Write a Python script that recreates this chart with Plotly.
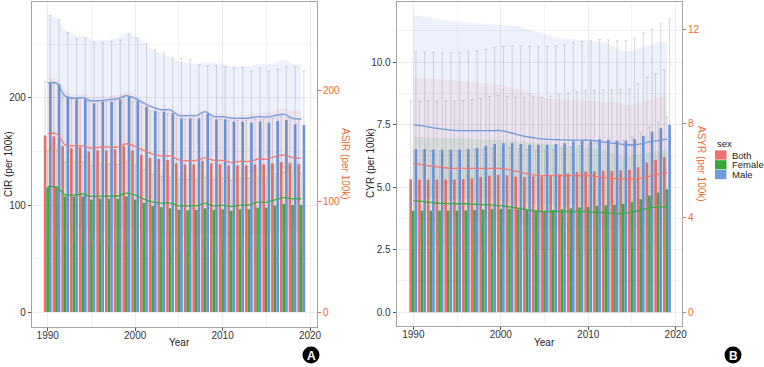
import plotly.graph_objects as go

W, H = 764, 367

years = list(range(1990, 2020))
sexes = ["Both", "Female", "Male"]

# ---------- Panel A: CIR (bars, left axis) / ASIR (lines + ribbons, right axis) ----------
cir_both = [165, 164, 155, 153, 154, 150, 151, 151, 152, 155, 151, 147, 144, 143, 142,
            139, 138, 138, 141, 139, 138, 137, 137, 137, 138, 138, 139, 140, 139, 138]
cir_both_lo = [116, 115, 109, 107, 108, 105, 106, 106, 106, 109, 106, 103, 101, 100, 99,
               97, 97, 97, 99, 97, 97, 96, 96, 96, 97, 97, 97, 98, 97, 97]
cir_both_hi = [215, 214, 202, 199, 200, 196, 197, 197, 198, 202, 197, 192, 188, 186, 185,
               181, 180, 180, 184, 181, 180, 179, 179, 179, 180, 180, 181, 183, 181, 180]
cir_female = [116.5, 117, 108, 108, 108, 105, 106, 106, 106, 108, 105, 102, 99, 98, 97,
              95.5, 95, 95.5, 97, 95.5, 96, 94.5, 96, 96, 97.5, 97.5, 99.5, 101, 100, 100]
cir_female_lo = [70, 70, 65, 65, 65, 63, 64, 64, 64, 65, 63, 61, 59, 59, 58,
                 57, 57, 57, 58, 57, 58, 57, 58, 58, 59, 59, 60, 61, 60, 60]
cir_female_hi = [151, 152, 140, 140, 140, 137, 138, 138, 138, 140, 137, 133, 129, 127, 126,
                 124, 124, 124, 126, 124, 125, 123, 125, 125, 127, 127, 129, 131, 130, 130]
cir_male = [213.7, 212.8, 201.2, 198.8, 198.8, 195.0, 196.6, 196.6, 198.8, 201.2, 197.5, 191.9,
            187.9, 187.2, 185.7, 181, 181, 181, 185, 180, 180, 177.9, 177.9, 177, 177.9, 177,
            178.5, 179.4, 175.4, 174.8]
cir_male_lo = [150, 149, 141, 139, 139, 137, 138, 138, 139, 141, 138, 134, 132, 131, 130,
               127, 127, 127, 130, 126, 126, 125, 125, 124, 125, 124, 125, 126, 123, 122]
cir_male_hi = [277, 273, 261, 255, 256, 252, 252, 253, 254, 260, 256, 251, 245, 242, 238,
               237, 236, 231, 230, 230, 229, 228, 229, 225, 228, 225, 227, 229, 229, 225]

asir_both = [161, 161, 151, 150, 150, 148, 149, 149, 149, 152, 149.5, 146, 142.6, 141, 141,
             137.5, 136.5, 137, 139.5, 137, 137, 135, 136, 136, 138, 138, 140.4, 141.7, 139.5, 139]
asir_both_lo = [116, 116, 109, 108, 108, 107, 107, 107, 107, 109, 107, 105, 102, 101, 101,
                99, 98, 99, 100, 99, 99, 97, 98, 98, 99, 99, 101, 102, 100, 100]
asir_both_hi = [212, 211, 199, 197, 197, 194, 195, 195, 196, 199, 196, 191, 186, 184, 184,
                180, 179, 179, 182, 179, 179, 177, 178, 178, 180, 180, 182, 184, 182, 182]
asir_female = [113.4, 113, 105.9, 105.6, 106.6, 104.4, 104.6, 104.6, 104.8, 107.4, 105.6, 102,
               99.5, 98.4, 98.4, 95.9, 95.9, 95.9, 98.4, 95.9, 96.5, 95.3, 96.5, 96.8, 99.2,
               99.2, 101.4, 103.4, 102.3, 102.3]
asir_female_lo = [82, 81, 76, 76, 77, 75, 75, 75, 75, 77, 76, 73, 71, 70, 70,
                  69, 69, 69, 71, 69, 69, 68, 69, 69, 71, 71, 73, 74, 73, 73]
asir_female_hi = [150, 149, 140, 139, 141, 138, 138, 138, 138, 142, 139, 135, 131, 130, 130,
                  127, 127, 127, 130, 127, 128, 126, 127, 128, 131, 131, 134, 137, 135, 135]
asir_male = [207, 206.7, 195, 193, 193.6, 190.7, 191, 191.8, 192.7, 195.5, 193, 188.6, 185,
             182.6, 182.6, 177.4, 177.4, 177.4, 181, 176.5, 176.5, 175, 175, 175, 176.5, 176,
             177.4, 178.7, 175, 174.5]
asir_male_lo = [150, 149, 141, 139, 140, 138, 138, 138, 139, 141, 139, 136, 133, 131, 131,
                128, 128, 128, 130, 127, 127, 126, 126, 126, 127, 127, 128, 129, 126, 126]
asir_male_hi = [268, 266, 255, 250, 249, 246, 245, 246, 247, 252, 249, 243, 237, 233, 230,
                226, 225, 224, 226, 225, 224, 222, 222, 222, 224, 223, 225, 228, 224, 223]

# ---------- Panel B: CYR (bars, left axis) / ASYR (lines + ribbons, right axis) ----------
cyr_both = [5.32, 5.3, 5.3, 5.3, 5.3, 5.3, 5.32, 5.35, 5.4, 5.45, 5.49, 5.47, 5.42, 5.4, 5.43,
            5.43, 5.45, 5.52, 5.55, 5.6, 5.63, 5.63, 5.65, 5.65, 5.67, 5.69, 5.8, 5.98, 6.09, 6.2]
cyr_both_lo = [3.2, 3.19, 3.19, 3.19, 3.19, 3.19, 3.2, 3.22, 3.25, 3.28, 3.3, 3.29, 3.26, 3.25,
               3.27, 3.27, 3.28, 3.32, 3.34, 3.37, 3.39, 3.39, 3.4, 3.4, 3.41, 3.42, 3.49, 3.6,
               3.66, 3.73]
cyr_both_hi = [8.46, 8.44, 8.44, 8.43, 8.44, 8.44, 8.46, 8.5, 8.56, 8.62, 8.66, 8.63, 8.6, 8.58,
               8.6, 8.6, 8.64, 8.72, 8.76, 8.82, 8.86, 8.86, 8.88, 8.88, 8.9, 8.92, 9.13, 9.4,
               9.53, 9.69]
cyr_female = [4.06, 4.06, 4.06, 4.06, 4.06, 4.06, 4.07, 4.08, 4.1, 4.12, 4.13, 4.13, 4.11, 4.09,
              4.07, 4.06, 4.09, 4.12, 4.15, 4.19, 4.22, 4.25, 4.27, 4.29, 4.33, 4.4, 4.52, 4.66,
              4.78, 4.91]
cyr_female_lo = [2.44, 2.44, 2.44, 2.44, 2.44, 2.44, 2.45, 2.45, 2.46, 2.47, 2.48, 2.48, 2.47,
                 2.45, 2.44, 2.44, 2.45, 2.47, 2.49, 2.51, 2.53, 2.55, 2.56, 2.57, 2.6, 2.64,
                 2.71, 2.8, 2.87, 2.95]
cyr_female_hi = [6.45, 6.45, 6.45, 6.45, 6.45, 6.45, 6.47, 6.49, 6.52, 6.55, 6.57, 6.57, 6.54,
                 6.5, 6.47, 6.45, 6.5, 6.55, 6.6, 6.66, 6.71, 6.76, 6.79, 6.82, 6.88, 7.0,
                 7.19, 7.41, 7.6, 7.81]
cyr_male = [6.52, 6.52, 6.50, 6.50, 6.50, 6.50, 6.52, 6.56, 6.65, 6.72, 6.76, 6.76, 6.72, 6.69,
            6.69, 6.69, 6.72, 6.76, 6.83, 6.86, 6.89, 6.92, 6.89, 6.86, 6.86, 6.92, 7.05, 7.22,
            7.36, 7.49]
cyr_male_lo = [3.91, 3.91, 3.9, 3.9, 3.9, 3.9, 3.91, 3.94, 3.99, 4.03, 4.06, 4.06, 4.03, 4.01,
               4.01, 4.01, 4.03, 4.06, 4.1, 4.12, 4.13, 4.15, 4.13, 4.12, 4.12, 4.15, 4.23,
               4.33, 4.42, 4.49]
cyr_male_hi = [10.4, 10.4, 10.38, 10.37, 10.37, 10.38, 10.4, 10.45, 10.5, 10.58, 10.62, 10.65,
               10.65, 10.63, 10.62, 10.62, 10.65, 10.7, 10.78, 10.82, 10.87, 10.9, 10.88, 10.85,
               10.85, 10.95, 11.16, 11.32, 11.53, 11.72]

asyr_both = [6.31, 6.26, 6.2, 6.15, 6.11, 6.1, 6.1, 6.1, 6.1, 6.1, 6.1, 6.04, 5.96, 5.88, 5.8,
             5.79, 5.79, 5.79, 5.79, 5.79, 5.79, 5.75, 5.7, 5.67, 5.64, 5.64, 5.68, 5.76, 5.85, 5.92]
asyr_both_lo = [3.9, 3.88, 3.86, 3.84, 3.82, 3.81, 3.8, 3.8, 3.8, 3.8, 3.79, 3.76, 3.72, 3.68,
                3.64, 3.62, 3.61, 3.6, 3.6, 3.6, 3.59, 3.57, 3.55, 3.53, 3.52, 3.52, 3.55,
                3.6, 3.65, 3.7]
asyr_both_hi = [9.96, 9.93, 9.9, 9.87, 9.85, 9.84, 9.8, 9.75, 9.7, 9.66, 9.63, 9.55, 9.45, 9.35,
                9.2, 9.07, 9.04, 9.02, 9.0, 9.0, 8.99, 8.97, 8.95, 8.9, 8.8, 8.78, 8.9, 9.0, 9.1, 9.2]
asyr_female = [4.73, 4.7, 4.66, 4.62, 4.61, 4.6, 4.6, 4.58, 4.56, 4.54, 4.52, 4.47, 4.41, 4.35,
               4.29, 4.27, 4.27, 4.27, 4.27, 4.27, 4.27, 4.24, 4.21, 4.19, 4.19, 4.25, 4.33,
               4.43, 4.46, 4.47]
asyr_female_lo = [2.85, 2.84, 2.83, 2.82, 2.81, 2.8, 2.8, 2.79, 2.78, 2.77, 2.76, 2.74, 2.71,
                  2.68, 2.65, 2.64, 2.64, 2.64, 2.64, 2.64, 2.63, 2.62, 2.6, 2.59, 2.59, 2.62,
                  2.66, 2.71, 2.73, 2.75]
asyr_female_hi = [7.44, 7.43, 7.42, 7.41, 7.4, 7.39, 7.37, 7.35, 7.33, 7.31, 7.3, 7.27, 7.24, 7.2,
                  7.16, 7.14, 7.11, 7.08, 7.05, 7.02, 6.98, 6.92, 6.84, 6.72, 6.6, 6.65, 6.73,
                  6.82, 6.9, 6.95]
asyr_male = [7.94, 7.9, 7.84, 7.78, 7.73, 7.7, 7.7, 7.7, 7.7, 7.7, 7.7, 7.62, 7.52, 7.44, 7.38,
             7.34, 7.32, 7.31, 7.3, 7.3, 7.3, 7.26, 7.2, 7.16, 7.12, 7.09, 7.14, 7.22, 7.28, 7.34]
asyr_male_lo = [4.9, 4.88, 4.85, 4.82, 4.8, 4.78, 4.78, 4.78, 4.78, 4.78, 4.78, 4.74, 4.68,
                4.64, 4.6, 4.58, 4.57, 4.56, 4.56, 4.56, 4.56, 4.54, 4.5, 4.48, 4.46, 4.45,
                4.48, 4.53, 4.57, 4.6]
asyr_male_hi = [12.6, 12.55, 12.48, 12.4, 12.35, 12.31, 12.28, 12.25, 12.22, 12.19, 12.17, 12.15,
                12.13, 12.0, 11.89, 11.8, 11.68, 11.62, 11.58, 11.55, 11.52, 11.48, 11.42, 11.25,
                11.04, 11.1, 11.22, 11.33, 11.43, 11.47]

# tick labels
x_ticks = [1990, 2000, 2010, 2020]
a_left_ticks = [0, 100, 200]
a_right_ticks = [0, 100, 200]
b_left_ticks = [0, 2.5, 5, 7.5, 10]
b_left_ticktext = ["0.0", "2.5", "5.0", "7.5", "10.0"]
b_right_ticks = [0, 4, 8, 12]

# ---------- styling ----------
BAR_COL = {"Both": "#EA625E", "Female": "#2E9E35", "Male": "#5A8BD5"}
LINE_COL = {"Both": "#F07A78", "Female": "#3DAA45", "Male": "#6F9BDC"}
RIB_COL = {"Both": "rgba(236,120,150,0.10)", "Female": "rgba(60,160,80,0.10)",
           "Male": "rgba(110,150,225,0.13)"}
KEY_COL = {"Both": "#EF7070", "Female": "#36A638", "Male": "#6E9CDA"}
ORANGE = "#F26A30"
GRID = "#EBEBEB"
BORDER = "#A4A4A4"
FONT = "Liberation Sans, Arial, sans-serif"


def px(x):
    return x / W


def py(y):
    return 1 - y / H


fig = go.Figure()

# axis ids: rate axis (main, right side, ribbons), count axis (overlay, left side, bars),
# rate clone (overlay, hidden, lines on top)
panels = [
    dict(xa="x", y_rate="y", y_count="y2", y_line="y3",
         bars={"Both": (cir_both, cir_both_lo, cir_both_hi),
               "Female": (cir_female, cir_female_lo, cir_female_hi),
               "Male": (cir_male, cir_male_lo, cir_male_hi)},
         lines={"Both": (asir_both, asir_both_lo, asir_both_hi),
                "Female": (asir_female, asir_female_lo, asir_female_hi),
                "Male": (asir_male, asir_male_lo, asir_male_hi)}),
    dict(xa="x2", y_rate="y4", y_count="y5", y_line="y6",
         bars={"Both": (cyr_both, cyr_both_lo, cyr_both_hi),
               "Female": (cyr_female, cyr_female_lo, cyr_female_hi),
               "Male": (cyr_male, cyr_male_lo, cyr_male_hi)},
         lines={"Both": (asyr_both, asyr_both_lo, asyr_both_hi),
                "Female": (asyr_female, asyr_female_lo, asyr_female_hi),
                "Male": (asyr_male, asyr_male_lo, asyr_male_hi)}),
]

for p in panels:
    for s in ["Male", "Both", "Female"]:
        v, lo, hi = p["lines"][s]
        fig.add_trace(go.Scatter(
            x=years + years[::-1], y=hi + lo[::-1], xaxis=p["xa"], yaxis=p["y_rate"],
            fill="toself", fillcolor=RIB_COL[s], line=dict(width=0), mode="lines",
            hoverinfo="skip", showlegend=False,
        ))
    for s in sexes:
        v, lo, hi = p["bars"][s]
        fig.add_trace(go.Bar(
            x=years, y=v, name=s, xaxis=p["xa"], yaxis=p["y_count"], offsetgroup=s,
            marker=dict(color=BAR_COL[s], line=dict(width=0)), opacity=0.92,
            showlegend=False,
            error_y=dict(type="data", symmetric=False,
                         array=[h - a for h, a in zip(hi, v)],
                         arrayminus=[a - l for a, l in zip(v, lo)],
                         color="rgba(140,140,140,0.5)", thickness=0.7, width=1.5),
        ))
    for s in sexes:
        v, lo, hi = p["lines"][s]
        fig.add_trace(go.Scatter(
            x=years, y=v, xaxis=p["xa"], yaxis=p["y_line"], mode="lines",
            line=dict(color=LINE_COL[s], width=1.3, shape="spline", smoothing=0.8),
            showlegend=False,
        ))

common_x = dict(showline=True, linecolor=BORDER, linewidth=1.2, mirror=True,
                ticks="outside", ticklen=3, tickcolor="#555555", tickwidth=1,
                tickvals=x_ticks, showgrid=True, gridcolor=GRID, gridwidth=1,
                minor=dict(dtick=5, tick0=1990, showgrid=True, gridcolor="#F3F3F3",
                           gridwidth=0.6, ticks=""),
                zeroline=False, automargin=False, ticklabelstandoff=-4,
                tickfont=dict(family=FONT, size=10, color="#333333"))
common_yl = dict(side="left", showline=True, linecolor=BORDER, linewidth=1.2, mirror=True,
                 ticks="outside", ticklen=3, tickcolor="#555555", tickwidth=1,
                 showgrid=True, gridcolor=GRID, gridwidth=1, zeroline=False,
                 automargin=False, tickfont=dict(family=FONT, size=10, color="#333333"))
common_yr = dict(side="right", showline=False, ticks="outside", ticklen=3, tickcolor=ORANGE,
                 tickwidth=1, showgrid=False, zeroline=False, automargin=False,
                 tickfont=dict(family=FONT, size=10, color=ORANGE))
hidden = dict(visible=False, showgrid=False, zeroline=False, automargin=False)

yA = [py(327), py(2)]
yB = [py(326), py(2)]
rangeA_rate = [-13.5, 280]
rangeB_rate = [-0.58, 13.15]

fig.update_layout(
    width=W, height=H, margin=dict(l=0, r=0, t=0, b=0),
    paper_bgcolor="white", plot_bgcolor="white",
    barmode="group", bargap=0.1, bargroupgap=0.0,
    font=dict(family=FONT, size=10, color="#222222"),
    xaxis=dict(domain=[px(32), px(317)], range=[1988.2, 2020.8], anchor="y", **common_x),
    yaxis=dict(domain=yA, anchor="x", range=rangeA_rate, tickvals=a_right_ticks, **common_yr),
    yaxis2=dict(overlaying="y", anchor="x", range=[-14, 289.7], tickvals=a_left_ticks,
                minor=dict(dtick=50, tick0=0, showgrid=True, gridcolor="#F3F3F3",
                           gridwidth=0.6, ticks=""), **common_yl),
    yaxis3=dict(overlaying="y", anchor="x", range=rangeA_rate, **hidden),
    xaxis2=dict(domain=[px(396.7), px(682)], range=[1988.1, 2020.72], anchor="y4", **common_x),
    yaxis4=dict(domain=yB, anchor="x2", range=rangeB_rate, tickvals=b_right_ticks, **common_yr),
    yaxis5=dict(overlaying="y4", anchor="x2", range=[-0.55, 12.4], tickvals=b_left_ticks,
                ticktext=b_left_ticktext,
                minor=dict(dtick=1.25, tick0=0, showgrid=True, gridcolor="#F3F3F3",
                           gridwidth=0.6, ticks=""), **common_yl),
    yaxis6=dict(overlaying="y4", anchor="x2", range=rangeB_rate, **hidden),
)

ann = []


def title(text, x, y, angle=0, color="#222222"):
    ann.append(dict(text=text, x=px(x), y=py(y), xref="paper", yref="paper",
                    showarrow=False, textangle=angle, xanchor="center", yanchor="middle",
                    font=dict(family=FONT, size=10, color=color)))


title("CIR (per 100k)", 9, 164, -90)
title("ASIR (per 100k)", 345, 164, 90, ORANGE)
title("Year", 179, 342.5)
title("CYR (per 100k)", 371, 164, -90)
title("ASYR (per 100k)", 701, 164, 90, ORANGE)
title("Year", 544, 342.5)

shapes = []
# legend (manual)
ann.append(dict(text="sex", x=px(715), y=py(143), xref="paper", yref="paper",
                showarrow=False, xanchor="left", yanchor="middle",
                font=dict(family=FONT, size=9.5, color="#222222")))
for i, s in enumerate(sexes):
    cy = 155 + i * 9.8
    shapes.append(dict(type="rect", xref="paper", yref="paper",
                       x0=px(715), x1=px(726.5), y0=py(cy - 4.6), y1=py(cy + 4.6),
                       fillcolor=KEY_COL[s], line=dict(width=0)))
    ann.append(dict(text=s, x=px(730), y=py(cy), xref="paper", yref="paper",
                    showarrow=False, xanchor="left", yanchor="middle",
                    font=dict(family=FONT, size=9.5, color="#222222")))

# panel letters
for letter, cx, cy in [("A", 311, 355), ("B", 733, 355)]:
    r = 8.5
    shapes.append(dict(type="circle", xref="paper", yref="paper",
                       x0=px(cx - r), x1=px(cx + r), y0=py(cy + r), y1=py(cy - r),
                       fillcolor="black", line=dict(width=0)))
    ann.append(dict(text="<b>%s</b>" % letter, x=px(cx), y=py(cy + 0.5), xref="paper",
                    yref="paper", showarrow=False, xanchor="center", yanchor="middle",
                    font=dict(family=FONT, size=12, color="white")))

fig.update_layout(annotations=ann, shapes=shapes)

fig.write_html("out.html", config={"displayModeBar": False},
               post_script="document.body.style.margin='0';document.body.style.overflow='hidden';")
